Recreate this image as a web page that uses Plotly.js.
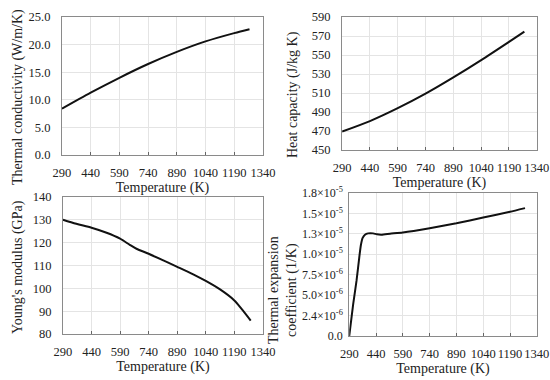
<!DOCTYPE html>
<html><head><meta charset="utf-8">
<script src="https://cdn.plot.ly/plotly-3.0.1.min.js"></script>
<style>html,body{margin:0;padding:0;background:#fff}#c{width:550px;height:380px}</style>
</head><body><div id="c"></div>
<script>
const xTicks = [290, 440, 590, 740, 890, 1040, 1190, 1340];

const tcTemp = [290, 440, 590, 740, 890, 1040, 1190, 1270];
const tcVal  = [8.4, 11.3, 14.0, 16.5, 18.7, 20.6, 22.1, 22.8];

const hcTemp = [290, 440, 590, 740, 890, 1040, 1190, 1273];
const hcVal  = [469.5, 480.5, 494.1, 509.4, 526.5, 544.7, 563.9, 574.7];

const ymTemp = [290, 360, 440, 519, 590, 641, 676, 740, 817, 890, 974, 1040, 1115, 1190, 1228, 1276];
const ymVal  = [130.0, 128.2, 126.5, 124.3, 121.7, 119.0, 117.3, 115.1, 112.2, 109.4, 106.1, 103.2, 99.5, 94.7, 91.0, 85.9];

const teTemp = [290, 312, 331, 346, 355, 365, 378, 396, 424, 445, 471, 518, 590, 740, 890, 1040, 1190, 1274];
const teVal  = [0, 3.9e-6, 6.8e-6, 9.6e-6, 11.1e-6, 12.0e-6, 12.4e-6, 12.56e-6, 12.56e-6, 12.44e-6, 12.4e-6, 12.52e-6, 12.68e-6, 13.2e-6, 13.8e-6, 14.5e-6, 15.2e-6, 15.65e-6];

const tcTickVals = [0, 5, 10, 15, 20, 25];
const tcTickText = ['0.0', '5.0', '10.0', '15.0', '20.0', '25.0'];
const hcTickVals = [450, 470, 490, 510, 530, 550, 570, 590];
const ymTickVals = [80, 90, 100, 110, 120, 130, 140];
const teTickVals = [0, 2.5e-6, 5.0e-6, 7.5e-6, 1.0e-5, 1.25e-5, 1.5e-5, 1.75e-5];
const teTickText = ['0.0', '2.4×10<sup>-6</sup>', '5.0×10<sup>-6</sup>', '7.5×10<sup>-6</sup>', '1.0×10<sup>-5</sup>', '1.3×10<sup>-5</sup>', '1.5×10<sup>-5</sup>', '1.8×10<sup>-5</sup>'];

const yTitles = ['Thermal conductivity (W/m/K)', 'Heat capacity (J/kg K)', "Young's modulus (GPa)", 'Thermal expansion<br>coefficient (1/K)'];

const font = {family: 'Liberation Serif, Times New Roman, serif', size: 12, color: '#222'};
const line = {color: '#111', width: 2, shape: 'spline', smoothing: 0.8};

function xa(domain, anchor) {
  return {domain: domain, anchor: anchor, range: [290, 1340], tickvals: xTicks,
    showgrid: true, gridcolor: '#e4e4e4', showline: true, linecolor: '#8a8a8a', mirror: true,
    ticks: 'inside', ticklen: 3, tickcolor: '#666', zeroline: false, ticklabelstandoff: 6,
    tickfont: {size: 12.5}, title: {text: 'Temperature (K)', font: {size: 14}, standoff: 0}};
}
function ya(domain, anchor, range, vals, text, standoff, fs) {
  const o = {domain: domain, anchor: anchor, range: range, tickvals: vals,
    showgrid: true, gridcolor: '#e4e4e4', showline: true, linecolor: '#8a8a8a', mirror: true,
    ticks: '', zeroline: false, tickfont: {size: fs}, ticklabelstandoff: standoff};
  if (text) o.ticktext = text;
  return o;
}
function ann(x, y, text) {
  return {x: x / 550, y: 1 - y / 380, xref: 'paper', yref: 'paper', text: text, textangle: -90,
    showarrow: false, xanchor: 'center', yanchor: 'middle', font: {size: 14, color: '#222'}};
}

const data = [
  {x: tcTemp, y: tcVal, xaxis: 'x', yaxis: 'y', mode: 'lines', line: line},
  {x: hcTemp, y: hcVal, xaxis: 'x2', yaxis: 'y2', mode: 'lines', line: line},
  {x: ymTemp, y: ymVal, xaxis: 'x3', yaxis: 'y3', mode: 'lines', line: line},
  {x: teTemp, y: teVal, xaxis: 'x4', yaxis: 'y4', mode: 'lines', line: {color: '#111', width: 2, shape: 'spline', smoothing: 0.5}}
];

const layout = {
  width: 550, height: 380, margin: {l: 0, r: 0, t: 0, b: 0},
  paper_bgcolor: '#fff', plot_bgcolor: '#fff', showlegend: false, font: font,
  xaxis: xa([0.1127, 0.478], 'y'),
  yaxis: ya([0.592, 0.955], 'x', [0, 25], tcTickVals, tcTickText, 8, 12.5),
  xaxis2: xa([0.622, 0.976], 'y2'),
  yaxis2: ya([0.605, 0.955], 'x2', [450, 590], hcTickVals, null, 8, 12.5),
  xaxis3: xa([0.1145, 0.478], 'y3'),
  yaxis3: ya([0.121, 0.482], 'x3', [80, 140], ymTickVals, null, 8, 12.5),
  xaxis4: xa([0.635, 0.976], 'y4'),
  yaxis4: ya([0.116, 0.492], 'x4', [0, 1.75e-5], teTickVals, teTickText, 3, 12),
  annotations: [
    ann(18, 97, yTitles[0]),
    ann(293, 95, yTitles[1]),
    ann(18, 267, yTitles[2]),
    ann(283, 290, yTitles[3])
  ]
};

Plotly.newPlot('c', data, layout, {staticPlot: true, displayModeBar: false});
</script></body></html>
